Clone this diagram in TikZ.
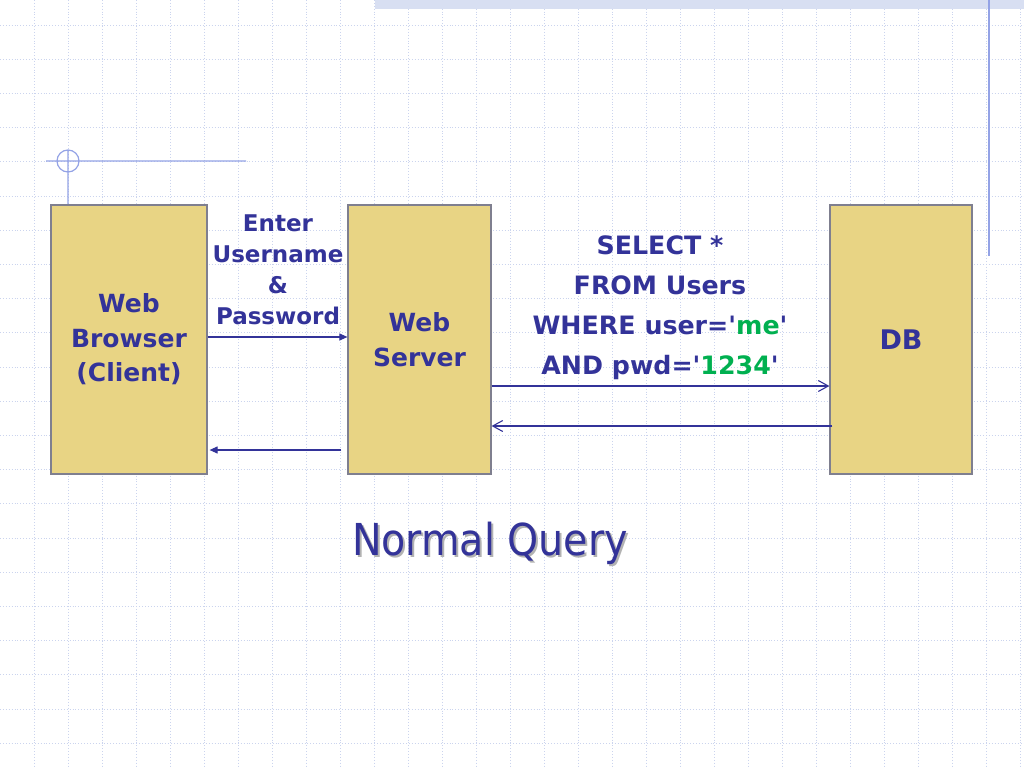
\documentclass[tikz,border=0pt]{standalone}
\usepackage{fontspec}
\setmainfont{DejaVu Sans}
\newfontfamily\titlefont{DejaVu Sans Condensed}
\usetikzlibrary{arrows.meta}
\definecolor{navy}{HTML}{333399}
\definecolor{sqlgreen}{HTML}{00B050}
\definecolor{boxfill}{HTML}{E8D484}
\definecolor{boxline}{HTML}{7F7F8F}
\definecolor{gridblue}{HTML}{CBD4EE}
\definecolor{rulerblue}{HTML}{94A3E6}
\newcommand{\tick}{\textquotesingle}
\newcommand{\hl}[1]{\textcolor{sqlgreen}{#1}}

\begin{document}
\begin{tikzpicture}[x=1pt,y=-1pt]
\tikzstyle{gridline}=[gridblue, dotted, line width=0.9pt]
\tikzstyle{tier}=[draw=boxline, fill=boxfill, line width=1.2pt, minimum height=269pt, inner sep=0pt, text=navy, align=center, font=\fontsize{25}{34.5}\selectfont\bfseries]
\tikzstyle{msg}=[text=navy, align=center, inner sep=0pt]
\tikzstyle{call}=[draw=navy, line width=1.1pt]
\useasboundingbox (0,0) rectangle (1024,768);
\fill[white] (0,0) rectangle (1024,768);
\foreach \gx in {34,68,...,1020} \draw[gridline] (\gx,0) -- (\gx,768);
\foreach \gy in {0,...,21} \draw[gridline] (0,{25+34.2*\gy}) -- (1024,{25+34.2*\gy});
\fill[gridblue!75] (375,0) rectangle (1024,9);
\draw[rulerblue, line width=1.2pt] (989,0) -- (989,256);
\draw[rulerblue, line width=1.2pt] (46,161) -- (246,161) (68,150) -- (68,205) (68,161) circle (11);

\node (browser) [tier, minimum width=156pt] at (129,339.5) {Web\\Browser\\(Client)};
\node (server) [tier, minimum width=143pt] at (419.5,339.5) {Web\\Server};
\node (db) [tier, minimum width=142pt, font=\fontsize{27}{34.5}\selectfont\bfseries] at (901,339.5) {DB};

\node (enterlbl) [msg, font=\fontsize{23}{31}\selectfont\bfseries] at (278,270) {Enter\\Username\\\&\\Password};
\node (sqllbl) [msg, font=\fontsize{25.3}{40}\selectfont\bfseries] at (660,308) {SELECT *\\FROM Users\\WHERE user=\tick\hl{me}\tick\\AND pwd=\tick\hl{1234}\tick};

\draw[call, -{Triangle[length=8pt,width=7pt]}] ([yshift=2.5pt]browser.east) -- ([yshift=2.5pt]server.west);
\draw[call, -{Triangle[length=8pt,width=7pt]}] ([xshift=-6pt,yshift=-110.5pt]server.west) -- ([xshift=2pt,yshift=-110.5pt]browser.east);
\draw[call, -{Straight Barb[length=10pt,width=11pt]}] ([yshift=-46.5pt]server.east) -- ([yshift=-46.5pt]db.west);
\draw[call, -{Straight Barb[length=10pt,width=11pt]}] ([xshift=3pt,yshift=-86.5pt]db.west) -- ([yshift=-86.5pt]server.east);

\node (titleshadow) [text=black!30, font=\titlefont\fontsize{44}{50}\selectfont] at (492,545) {Normal Query};
\node (title) [text=navy, font=\titlefont\fontsize{44}{50}\selectfont] at (490,543) {Normal Query};
\end{tikzpicture}
\end{document}
